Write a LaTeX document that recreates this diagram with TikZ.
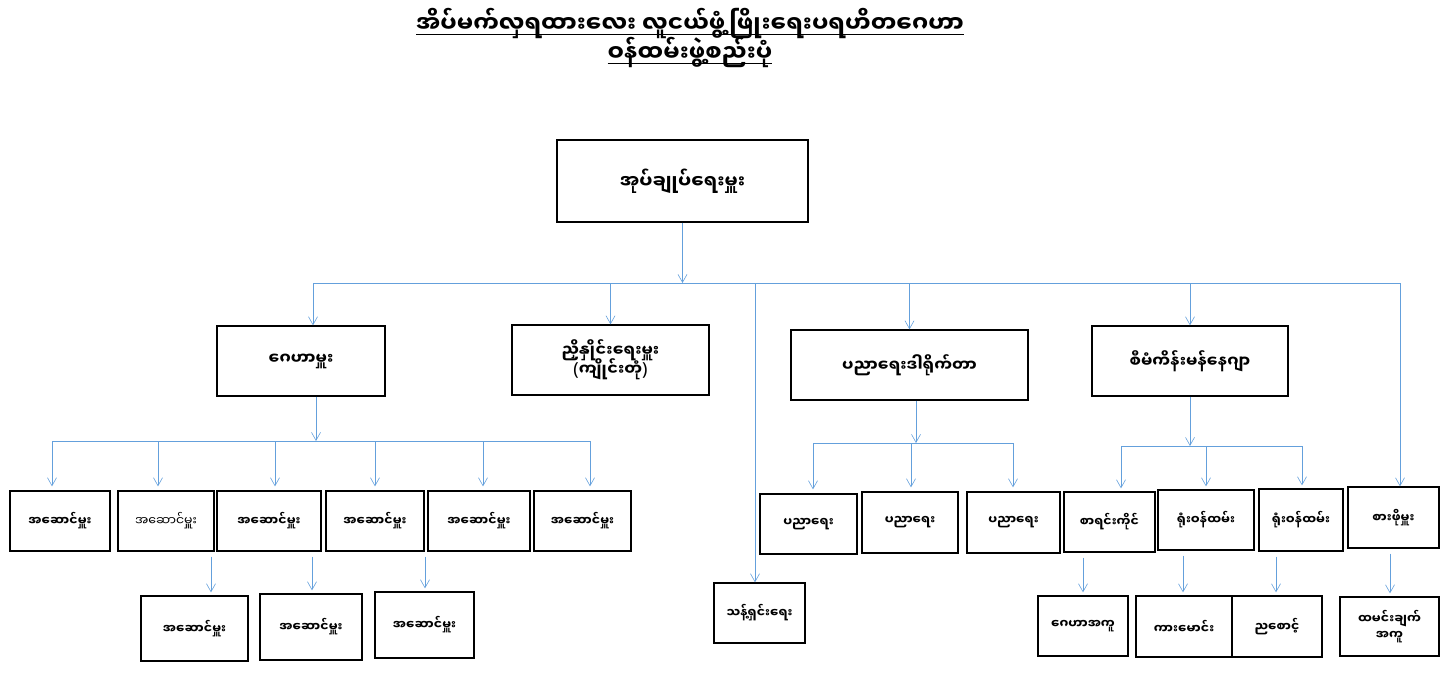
\documentclass[tikz,border=0pt]{standalone}
\usepackage{fontspec}
\newfontfamily\mmfont[Script=Myanmar]{Noto Sans Myanmar UI}
\newfontfamily\parenfont{Noto Sans}
\usetikzlibrary{arrows.meta, positioning}
\definecolor{lineBlue}{RGB}{100,160,220}
\newcommand{\lp}{{\parenfont\fontsize{18}{18}\selectfont(}}
\newcommand{\rp}{{\parenfont\fontsize{18}{18}\selectfont)}}
\newcommand{\titleline}[1]{\underline{\raisebox{0pt}[\height][1pt]{#1}}}

\begin{document}
\begin{tikzpicture}[
    x=1pt, y=-1pt,
    box/.style={
      rectangle, draw=black, fill=white, line width=1.3pt,
      inner sep=2pt, align=center,
      font=\mmfont\bfseries\fontsize{16}{18}\selectfont
    },
    headbox/.style={box, font=\mmfont\bfseries\fontsize{18.5}{22}\selectfont},
    unit/.style={box, font=\mmfont\bfseries\fontsize{12.5}{16}\selectfont},
    plainunit/.style={unit, font=\mmfont\fontsize{12.5}{16}\selectfont},
    title/.style={align=center, font=\mmfont\bfseries\fontsize{23}{29}\selectfont},
    arrow/.style={-{Straight Barb[length=8pt,width=9pt]}, lineBlue, line width=0.6pt},
    bus/.style={lineBlue, line width=0.9pt}
  ]
    \useasboundingbox (0,0) rectangle (1446,690);

    % Title
    \node[title] (title) at (690,36)
      {\titleline{အိပ်မက်လှရထားလေး လူငယ်ဖွံ့ဖြိုးရေးပရဟိတဂေဟာ}\\
       \titleline{ဝန်ထမ်းဖွဲ့စည်းပုံ}};

    % Top level
    \node[headbox, minimum width=251pt, minimum height=82pt] (head) at (682.5,181) {အုပ်ချုပ်ရေးမှူး};

    % Second level
    \node[box, minimum width=168pt, minimum height=70pt] (warden) at (301,361) {ဂေဟာမှူး};
    \node[box, minimum width=197pt, minimum height=70pt] (coord) at (610.5,360)
      {ညှိနှိုင်းရေးမှူး\\[-3pt]\lp ကျိုင်းတုံ\rp};
    \node[box, minimum width=237pt, minimum height=70pt] (edu) at (909.5,365) {ပညာရေးဒါရိုက်တာ};
    \node[box, minimum width=196pt, minimum height=70pt] (proj) at (1190,361) {စီမံကိန်းမန်နေဂျာ};

    % Hostel wardens
    \node[unit, minimum width=100pt, minimum height=60pt] (h1) at (60,521) {အဆောင်မှူး};
    \node[plainunit, minimum width=96pt, minimum height=60pt] (h2) at (166,521) {အဆောင်မှူး};
    \node[unit, minimum width=104pt, minimum height=60pt] (h3) at (269,521) {အဆောင်မှူး};
    \node[unit, minimum width=98pt, minimum height=60pt] (h4) at (375,521) {အဆောင်မှူး};
    \node[unit, minimum width=102pt, minimum height=60pt] (h5) at (479,521) {အဆောင်မှူး};
    \node[unit, minimum width=97pt, minimum height=60pt] (h6) at (582.5,521) {အဆောင်မှူး};
    \node[unit, minimum width=107pt, minimum height=65pt] (k1) at (194.5,628.5) {အဆောင်မှူး};
    \node[unit, minimum width=102pt, minimum height=66pt] (k2) at (311,627) {အဆောင်မှူး};
    \node[unit, minimum width=99pt, minimum height=66pt] (k3) at (424.5,625) {အဆောင်မှူး};

    % Education
    \node[unit, minimum width=97pt, minimum height=60pt] (e1) at (808.5,524) {ပညာရေး};
    \node[unit, minimum width=96pt, minimum height=61pt] (e2) at (910,522.5) {ပညာရေး};
    \node[unit, minimum width=93pt, minimum height=61pt] (e3) at (1013.5,522.5) {ပညာရေး};
    \node[unit, minimum width=91pt, minimum height=60pt] (clean) at (759.5,613) {သန့်ရှင်းရေး};

    % Project staff
    \node[unit, minimum width=91pt, minimum height=60pt] (r1) at (1109.5,522) {စာရင်းကိုင်};
    \node[unit, minimum width=96pt, minimum height=60pt] (r2) at (1206,520) {ရုံးဝန်ထမ်း};
    \node[unit, minimum width=84pt, minimum height=62pt] (r3) at (1301,520) {ရုံးဝန်ထမ်း};
    \node[unit, minimum width=91pt, minimum height=61pt] (r4) at (1393.5,517.5) {စားဖိုမှူး};
    \node[unit, minimum width=90pt, minimum height=60pt] (q1) at (1083,626) {ဂေဟာအကူ};
    \node[unit, minimum width=96pt, minimum height=61pt] (q2) at (1184,626.5) {ကားမောင်း};
    \node[unit, minimum width=90pt, minimum height=61pt] (q3) at (1277,626.5) {ညစောင့်};
    \node[unit, minimum width=99pt, minimum height=59pt] (q4) at (1389.5,626.5) {ထမင်းချက်\\အကူ};

    % Main bus
    \coordinate (busL) at (313,283);
    \coordinate (busR) at (1400,283);
    \coordinate (cleanTop) at (755,283);
    \draw[arrow] (head.south) -- (head.south |- busL);
    \draw[bus] (busL) -- (busR);
    \draw[arrow] (busL) -- (busL |- warden.north);
    \draw[arrow] (coord.north |- busL) -- (coord.north);
    \draw[arrow] (edu.north |- busL) -- (edu.north);
    \draw[arrow] (proj.north |- busL) -- (proj.north);
    \draw[arrow] (cleanTop) -- (cleanTop |- clean.north);
    \draw[arrow] (busR) -- (busR |- r4.north);

    % Warden bus
    \coordinate (wBus) at (316,441);
    \draw[arrow] (warden.south -| wBus) -- (wBus);
    \draw[bus] (52,441) -- (590,441);
    \foreach \x/\n in {52/h1, 158/h2, 275/h3, 375/h4, 483/h5, 590/h6}
      \draw[arrow, shorten >=4pt] (\x,441) -- (\n.north -| \x,0);
    \foreach \x/\a/\b in {211/h3/k1, 312/h4/k2, 425/h5/k3}
      \draw[arrow, shorten >=3pt] ([yshift=-5pt]\a.south -| \x,0) -- (\b.north -| \x,0);

    % Education bus
    \coordinate (eBus) at (916,443);
    \draw[arrow] (edu.south -| eBus) -- (eBus);
    \draw[bus] (813,443) -- (1013,443);
    \foreach \x/\n in {813/e1, 911/e2, 1013/e3}
      \draw[arrow, shorten >=4pt] (\x,443) -- (\n.north -| \x,0);

    % Project bus
    \coordinate (pBus) at (1190,446);
    \draw[arrow] (proj.south -| pBus) -- (pBus);
    \draw[bus] (1121,446) -- (1302,446);
    \foreach \x/\n in {1121/r1, 1206/r2, 1302/r3}
      \draw[arrow, shorten >=3pt] (\x,446) -- (\n.north -| \x,0);
    \foreach \x/\a/\b in {1083/r1/q1, 1183/r2/q2, 1276/r3/q3, 1390/r4/q4}
      \draw[arrow, shorten >=3pt] ([yshift=-5pt]\a.south -| \x,0) -- (\b.north -| \x,0);
  \end{tikzpicture}
\end{document}
